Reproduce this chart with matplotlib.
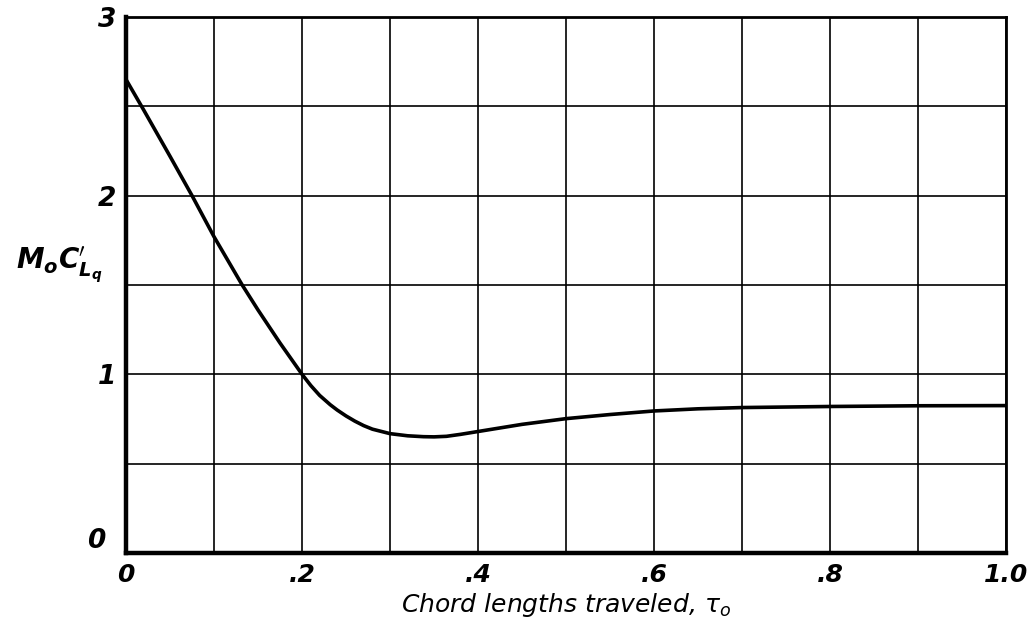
import matplotlib.pyplot as plt
import numpy as np

# values
tau = [0, 0.02, 0.05, 0.075, 0.1, 0.132, 0.15, 0.175, 0.2, 0.21, 0.22, 0.232,
       0.24, 0.25, 0.26, 0.27, 0.28, 0.3, 0.32, 0.338, 0.35, 0.364, 0.38, 0.4,
       0.425, 0.45, 0.5, 0.55, 0.6, 0.65, 0.7, 0.8, 0.9, 1.0]
clq = [2.65, 2.48, 2.22, 2.0, 1.77, 1.5, 1.36, 1.175, 1.0, 0.937, 0.882, 0.83,
       0.8, 0.767, 0.738, 0.713, 0.693, 0.668, 0.656, 0.651, 0.650, 0.653, 0.664, 0.68,
       0.70, 0.72, 0.752, 0.775, 0.795, 0.807, 0.814, 0.82, 0.824, 0.825]

xticks = np.round(np.arange(0, 1.01, 0.1), 1)
xlabels = ['0', '', '.2', '', '.4', '', '.6', '', '.8', '', '1.0']
yticks = np.arange(0, 3.01, 0.5)
ylabels = ['', '', '1', '', '2', '', '3']

plt.rcParams['font.family'] = ['DejaVu Sans']
fig = plt.figure(figsize=(10.27, 6.27), dpi=100)
ax = fig.add_axes([0.1227, 0.118, 0.857, 0.855])

ax.plot(tau, clq, color='black', lw=2.6, solid_capstyle='round',
        solid_joinstyle='round', zorder=3)

ax.set_xlim(0, 1.0)
ax.set_ylim(0, 3)
ax.set_xticks(xticks)
ax.set_xticklabels(xlabels, fontsize=18, style='italic', fontweight='bold')
ax.set_yticks(yticks)
ax.set_yticklabels(ylabels, fontsize=19, style='italic', fontweight='bold')
ax.tick_params(length=0, pad=7)
ax.grid(True, color='black', lw=1.2)

for side, w in [('left', 3.2), ('bottom', 3.2), ('top', 2.0), ('right', 2.0)]:
    ax.spines[side].set_linewidth(w)
    ax.spines[side].set_zorder(4)

ax.text(-0.034, 0.07, '0', fontsize=19, style='italic', fontweight='bold',
        ha='center', va='center', clip_on=False)

ax.set_xlabel(r"Chord lengths traveled, $\tau_o$", fontsize=18, style='italic',
              labelpad=3)
fig.text(0.058, 0.577, r"$\mathbfit{M_oC}^{\prime}_{\mathbfit{L_q}}$", fontsize=20,
         ha='center', va='center')

plt.savefig('out.png', dpi=100)
